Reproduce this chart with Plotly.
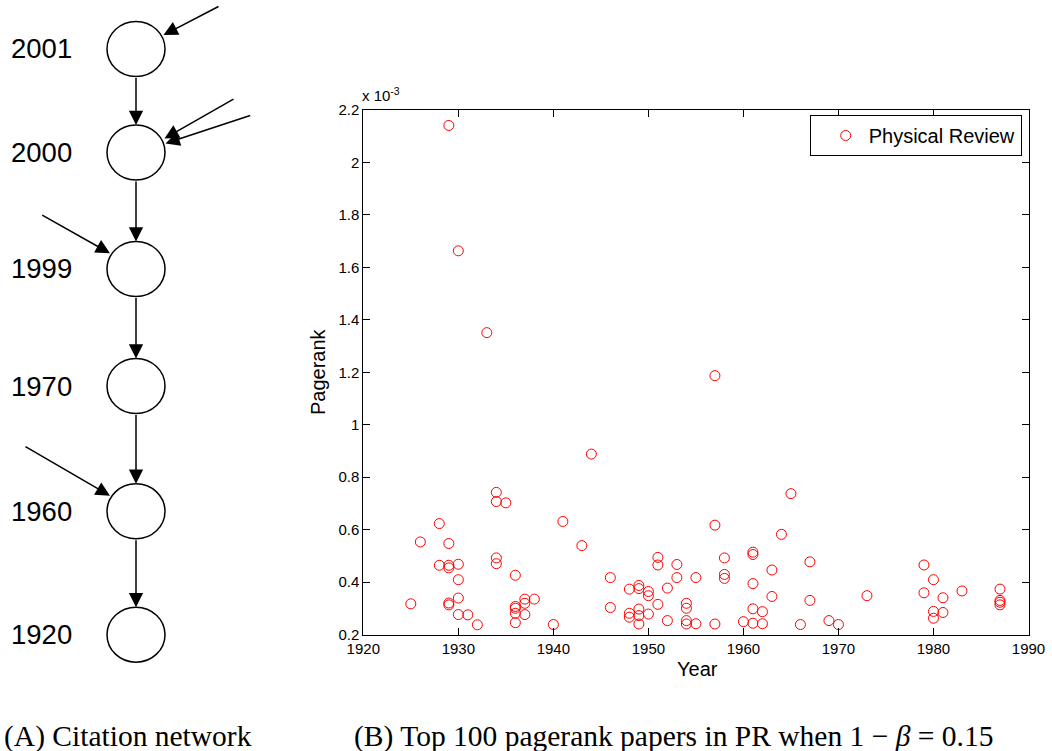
import plotly.graph_objects as go

# ---- panel B data: publication year and pagerank (in units of 1e-3) ----
years = [
    1925, 1926, 1928, 1928, 1929, 1929, 1929, 1929, 1929, 1929,
    1930, 1930, 1930, 1930, 1930, 1931, 1932, 1933, 1934, 1934,
    1934, 1934, 1935, 1936, 1936, 1936, 1936, 1936, 1937, 1937,
    1937, 1938, 1940, 1941, 1943, 1944, 1946, 1946, 1948, 1948,
    1948, 1949, 1949, 1949, 1949, 1949, 1950, 1950, 1950, 1951,
    1951, 1951, 1952, 1952, 1953, 1953, 1954, 1954, 1954, 1954,
    1955, 1955, 1957, 1957, 1957, 1958, 1958, 1958, 1960, 1961,
    1961, 1961, 1961, 1961, 1962, 1962, 1963, 1963, 1964, 1965,
    1966, 1967, 1967, 1969, 1970, 1973, 1979, 1979, 1980, 1980,
    1980, 1981, 1981, 1983, 1987, 1987, 1987, 1987,
]
pagerank_e3 = [
    0.317, 0.553, 0.623, 0.464, 2.141, 0.547, 0.464, 0.454, 0.320, 0.313,
    1.663, 0.468, 0.409, 0.339, 0.276, 0.275, 0.237, 1.351, 0.742, 0.707,
    0.492, 0.470, 0.702, 0.426, 0.307, 0.300, 0.281, 0.245, 0.335, 0.319,
    0.276, 0.335, 0.238, 0.631, 0.539, 0.888, 0.417, 0.303, 0.373, 0.281,
    0.266, 0.387, 0.375, 0.297, 0.272, 0.240, 0.364, 0.348, 0.278, 0.494,
    0.465, 0.315, 0.377, 0.253, 0.467, 0.417, 0.319, 0.300, 0.253, 0.240,
    0.417, 0.241, 1.187, 0.617, 0.240, 0.492, 0.429, 0.414, 0.249, 0.514,
    0.505, 0.394, 0.298, 0.243, 0.287, 0.241, 0.446, 0.345, 0.582, 0.737,
    0.238, 0.477, 0.330, 0.253, 0.238, 0.348, 0.465, 0.359, 0.409, 0.288,
    0.262, 0.340, 0.284, 0.366, 0.373, 0.330, 0.323, 0.313,
]
series_name = "Physical Review"

x_ticks = [1920, 1930, 1940, 1950, 1960, 1970, 1980, 1990]
y_ticks = [0.2, 0.4, 0.6, 0.8, 1.0, 1.2, 1.4, 1.6, 1.8, 2.0, 2.2]
y_tick_text = ["0.2", "0.4", "0.6", "0.8", "1", "1.2", "1.4", "1.6", "1.8", "2", "2.2"]

# ---- panel A: citation chain (node labels, vertical centres in px) ----
node_labels = ["2001", "2000", "1999", "1970", "1960", "1920"]
node_y = [49, 152.5, 269, 386, 511.3, 634.7]
node_x = 136
node_rx, node_ry = 29, 27.5
# external citations: (tail x, tail y, head x, head y)
incoming = [
    (220, 5.7, 163.5, 35),
    (235, 98.3, 164.5, 138.5),
    (251.7, 115, 165.5, 143.5),
    (40.7, 214.3, 110, 253.3),
    (24, 445.7, 110, 495.7),
]

W, H = 1052, 751
SANS = "Liberation Sans, Arial, sans-serif"
SERIF = "Liberation Serif, Times New Roman, serif"


def px(x):
    return x / W


def py(y):
    return 1 - y / H


fig = go.Figure()
fig.add_trace(go.Scatter(
    x=years, y=pagerank_e3, mode="markers", name=series_name,
    marker=dict(symbol="circle-open", size=10, color="#ff0000",
                line=dict(width=1, color="#ff0000")),
))

shapes = []
annotations = []

# nodes
for cy in node_y:
    shapes.append(dict(type="circle", xref="paper", yref="paper",
                       x0=px(node_x - node_rx), x1=px(node_x + node_rx),
                       y0=py(cy + node_ry), y1=py(cy - node_ry),
                       line=dict(color="black", width=1.5), fillcolor="white"))
# year labels
for lbl, cy in zip(node_labels, node_y):
    annotations.append(dict(xref="paper", yref="paper", x=px(9), y=py(cy), text=lbl,
                            showarrow=False, xanchor="left", yanchor="middle",
                            font=dict(family=SANS, size=27.5, color="black")))


def arrow(tx, ty, hx, hy):
    return dict(xref="paper", yref="paper", x=px(hx), y=py(hy),
                axref="pixel", ayref="pixel", ax=tx - hx, ay=ty - hy,
                text="", showarrow=True, arrowhead=2, arrowsize=1.9,
                arrowwidth=1.5, arrowcolor="black", standoff=0)


# arrows down the chain
for y_top, y_bot in zip(node_y[:-1], node_y[1:]):
    annotations.append(arrow(node_x, y_top + node_ry, node_x, y_bot - node_ry))
# incoming citation arrows
for tx, ty, hx, hy in incoming:
    annotations.append(arrow(tx, ty, hx, hy))

# axis titles, exponent note and captions
annotations += [
    dict(xref="paper", yref="paper", x=px(360), y=py(106),
         text="x 10<sup>-3</sup>", showarrow=False, xanchor="left", yanchor="bottom",
         font=dict(family=SANS, size=15, color="black")),
    dict(xref="paper", yref="paper", x=px(697), y=py(669), text="Year",
         showarrow=False, xanchor="center", yanchor="middle",
         font=dict(family=SANS, size=20, color="black")),
    dict(xref="paper", yref="paper", x=px(318), y=py(372), text="Pagerank",
         showarrow=False, xanchor="center", yanchor="middle", textangle=-90,
         font=dict(family=SANS, size=20, color="black")),
    dict(xref="paper", yref="paper", x=px(2), y=py(736), text="(A) Citation network",
         showarrow=False, xanchor="left", yanchor="middle",
         font=dict(family=SERIF, size=29.5, color="black")),
    dict(xref="paper", yref="paper", x=px(352), y=py(736),
         text="(B) Top 100 pagerank papers in PR when 1 \u2212 <i>\u03b2</i> = 0.15",
         showarrow=False, xanchor="left", yanchor="middle",
         font=dict(family=SERIF, size=29.5, color="black")),
]

axis_common = dict(showgrid=False, zeroline=False, showline=True, linecolor="black",
                   linewidth=1, mirror="ticks", ticks="inside", ticklen=7,
                   tickcolor="black", tickwidth=1,
                   tickfont=dict(family=SANS, size=15, color="black"))

fig.update_layout(
    width=W, height=H,
    margin=dict(l=0, r=0, t=0, b=0, pad=0, autoexpand=False),
    paper_bgcolor="white", plot_bgcolor="white",
    showlegend=True,
    legend=dict(x=px(1021.7), y=py(115), xanchor="right", yanchor="top",
                bordercolor="black", borderwidth=1, bgcolor="white",
                indentation=12, itemwidth=36,
                font=dict(family=SANS, size=20, color="black")),
    xaxis=dict(domain=[px(363.3), px(1028.5)], range=[1920, 1990],
               tickvals=x_ticks, **axis_common),
    yaxis=dict(domain=[py(634.5), py(110)], range=[0.2, 2.2],
               tickvals=y_ticks, ticktext=y_tick_text, **axis_common),
    shapes=shapes,
    annotations=annotations,
)

fig.write_html("out.html")
